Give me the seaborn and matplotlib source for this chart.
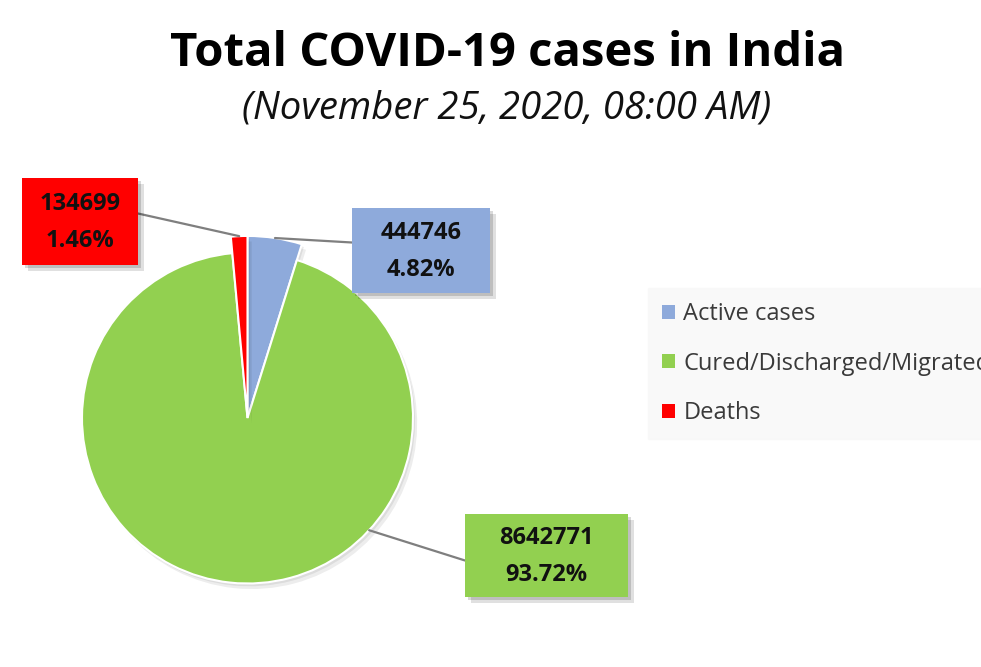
import matplotlib
matplotlib.use("Agg")
import numpy as np
import matplotlib.pyplot as plt
import matplotlib.patheffects as pe
from matplotlib.patches import Rectangle, Patch
import seaborn as sns

# data
categories = ["Active cases", "Cured/Discharged/Migrated", "Deaths"]
counts = [444746, 8642771, 134699]
shares = ["4.82%", "93.72%", "1.46%"]
colors = ["#8EAADB", "#92D050", "#FF0000"]

# label box layout (pixels, origin top-left)
box_centers = [(421, 250.5), (546.5, 555.5), (80, 221.5)]
box_sizes = [(138, 85), (163, 83), (116, 87)]
anchor_deg = [None, -42.7, None]   # where the leader line meets the slice

sns.set_theme(style="white")
plt.rcParams["font.family"] = ["Open Sans", "DejaVu Sans"]

W, H = 981, 667
fig = plt.figure(figsize=(W / 100, H / 100), dpi=100)
fig.patch.set_facecolor("white")

# pie axes, centred on the pie (unit radius = R_PX pixels)
R_PX = 165.5
CX, CY = 247.5, H - 418
LIM = 1.35
side = 2 * LIM * R_PX
ax = fig.add_axes([(CX - side / 2) / W, (CY - side / 2) / H, side / W, side / H])
wedges, _ = ax.pie(counts, colors=colors, startangle=90, counterclock=False,
                   radius=1.1, wedgeprops=dict(edgecolor="white", linewidth=1.5))
wedges[1].set_radius(1.0)
for w in wedges:
    w.set_path_effects([pe.SimplePatchShadow(offset=(3, -4), shadow_rgbFace="black",
                                             alpha=0.07),
                        pe.SimplePatchShadow(offset=(1.5, -2), shadow_rgbFace="black",
                                             alpha=0.07), pe.Normal()])
ax.set_xlim(-LIM, LIM)
ax.set_ylim(-LIM, LIM)
ax.set_aspect("equal")
ax.axis("off")

# overlay axes in pixel coordinates for the callout boxes
oax = fig.add_axes([0, 0, 1, 1], zorder=3)
oax.set_xlim(0, W)
oax.set_ylim(H, 0)
oax.axis("off")
oax.patch.set_alpha(0)

for i, w in enumerate(wedges):
    ang = anchor_deg[i] if anchor_deg[i] is not None else 0.5 * (w.theta1 + w.theta2)
    px, py = ax.transData.transform((w.center[0] + w.r * np.cos(np.radians(ang)),
                                     w.center[1] + w.r * np.sin(np.radians(ang))))
    py = H - py
    bx, by = box_centers[i]
    bw, bh = box_sizes[i]
    ex = bx - bw / 2 if bx > px else bx + bw / 2
    ey = by + (5 if i == 1 else -8)
    oax.plot([px, ex], [py, ey], color="#7F7F7F", linewidth=1.6, zorder=2)
    rect = Rectangle((bx - bw / 2, by - bh / 2), bw, bh, facecolor=colors[i],
                     edgecolor="none", zorder=3)
    rect.set_path_effects([pe.SimplePatchShadow(offset=(4, -4), shadow_rgbFace="black",
                                                alpha=0.12),
                           pe.SimplePatchShadow(offset=(2, -2), shadow_rgbFace="black",
                                                alpha=0.15), pe.Normal()])
    oax.add_patch(rect)
    oax.text(bx, by + 1, f"{counts[i]}\n{shares[i]}", ha="center", va="center",
             fontsize=17, fontweight="bold", color="#111111", linespacing=1.75,
             zorder=4)

leg = fig.legend(handles=[Patch(facecolor=c, edgecolor="none") for c in colors],
                 labels=categories, loc="upper left",
                 bbox_to_anchor=(648 / W, 1 - 288 / H), fontsize=17,
                 handlelength=0.55, handleheight=0.55, handletextpad=0.35,
                 labelspacing=1.08, borderpad=0.6, borderaxespad=0,
                 frameon=True, fancybox=False)
leg.get_frame().set_facecolor("#F8F8F8")
leg.get_frame().set_edgecolor("#F8F8F8")
for t in leg.get_texts():
    t.set_color("#3A3A3A")

fig.text(507 / W, 1 - 53 / H, "Total COVID-19 cases in India", ha="center",
         va="center", fontsize=34, fontweight="bold", color="black")
fig.text(507 / W, 1 - 108 / H, "(November 25, 2020, 08:00 AM)", ha="center",
         va="center", fontsize=27.5, style="italic", color="#111111")

fig.savefig("out.png", dpi=100, facecolor="white")
